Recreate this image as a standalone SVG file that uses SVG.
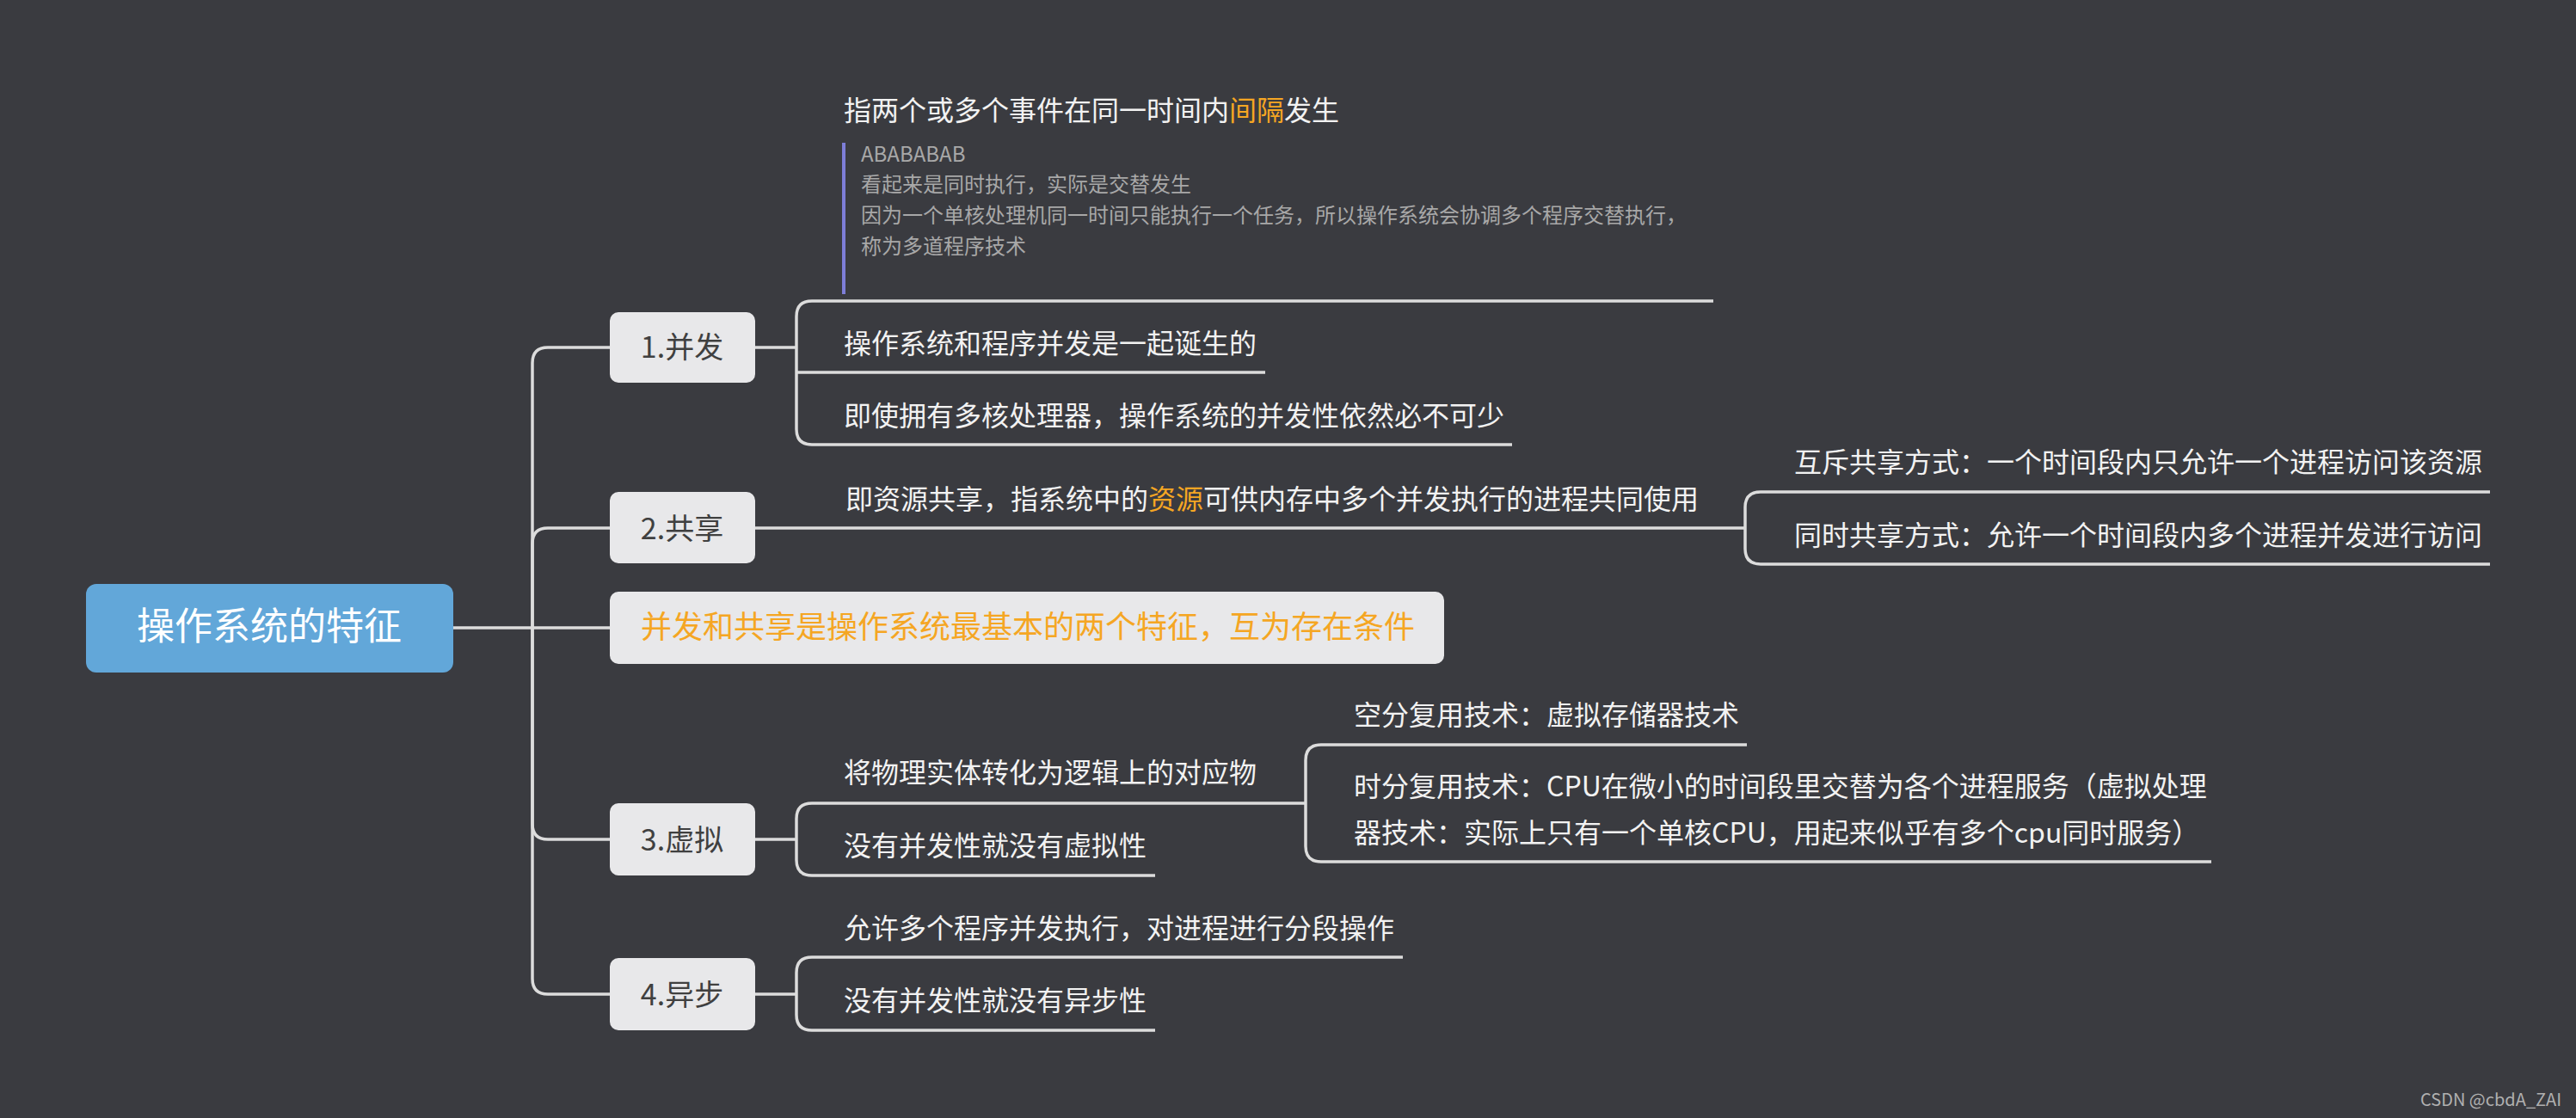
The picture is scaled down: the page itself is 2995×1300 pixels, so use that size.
<svg xmlns="http://www.w3.org/2000/svg" width="2995" height="1300" viewBox="0 0 2995 1300">
<style>
text{font-family:"Noto Sans CJK SC","Noto Sans",sans-serif}
.bg{fill:#3a3b40}
.ln{fill:none;stroke:#dcdcdc;stroke-width:3.5;stroke-linecap:butt}
.root{fill:#62a7d9}
.l1{fill:#e8e8ea}
.t1{font-size:34px;fill:#404040;text-anchor:middle}
.t2{font-size:32px;fill:#f2f2f2}
.note{font-size:24px;fill:#a8a8a8}
.hl{fill:#f5a623}
</style>
<rect class="bg" x="0" y="0" width="2995" height="1300"/>
<g id="connectors">
<path class="ln" d="M527 730 H709"/>
<path class="ln" d="M619 730 V422 Q619 404 637 404 H709"/>
<path class="ln" d="M619 730 V632 Q619 614 637 614 H709"/>
<path class="ln" d="M619 730 V958 Q619 976 637 976 H709"/>
<path class="ln" d="M619 730 V1138 Q619 1156 637 1156 H709"/>
<path class="ln" d="M878 404 H926"/>
<path class="ln" d="M1992 350 H944 Q926 350 926 368 V499 Q926 517 944 517 H1758"/>
<path class="ln" d="M926 433 H1471"/>
<path class="ln" d="M878 614 H2029"/>
<path class="ln" d="M2895 572 H2047 Q2029 572 2029 590 V638 Q2029 656 2047 656 H2895"/>
<path class="ln" d="M878 976 H926"/>
<path class="ln" d="M1518 934 H944 Q926 934 926 952 V1000 Q926 1018 944 1018 H1343"/>
<path class="ln" d="M2031 866 H1536 Q1518 866 1518 884 V984 Q1518 1002 1536 1002 H2571"/>
<path class="ln" d="M878 1156 H926"/>
<path class="ln" d="M1631 1113 H944 Q926 1113 926 1131 V1180 Q926 1198 944 1198 H1343"/>
</g>
<g id="root">
<rect class="root" x="100" y="679" width="427" height="103" rx="12"/>
<text x="313" y="744" style="font-size:44px;fill:#ffffff;text-anchor:middle">操作系统的特征</text>
</g>
<g id="n1">
<rect class="l1" x="709" y="363" width="169" height="82" rx="10"/>
<text class="t1" x="793" y="416">1.并发</text>
</g>
<g id="n1a">
<text class="t2" x="981" y="140">指两个或多个事件在同一时间内<tspan class="hl">间隔</tspan>发生</text>
<rect x="979" y="166" width="4" height="176" fill="#7e7ed8"/>
<text class="note" x="1001" y="188">ABABABAB</text>
<text class="note" x="1001" y="223">看起来是同时执行，实际是交替发生</text>
<text class="note" x="1001" y="259">因为一个单核处理机同一时间只能执行一个任务，所以操作系统会协调多个程序交替执行，</text>
<text class="note" x="1001" y="295">称为多道程序技术</text>
</g>
<g id="n1b"><text class="t2" x="981" y="411">操作系统和程序并发是一起诞生的</text></g>
<g id="n1c"><text class="t2" x="981" y="495">即使拥有多核处理器，操作系统的并发性依然必不可少</text></g>
<g id="n2">
<rect class="l1" x="709" y="572" width="169" height="83" rx="10"/>
<text class="t1" x="793" y="627">2.共享</text>
</g>
<g id="n2a"><text class="t2" x="983" y="592">即资源共享，指系统中的<tspan class="hl">资源</tspan>可供内存中多个并发执行的进程共同使用</text></g>
<g id="n2a1"><text class="t2" x="2086" y="549">互斥共享方式：一个时间段内只允许一个进程访问该资源</text></g>
<g id="n2a2"><text class="t2" x="2086" y="634">同时共享方式：允许一个时间段内多个进程并发进行访问</text></g>
<g id="nsum">
<rect class="l1" x="709" y="688" width="970" height="84" rx="10"/>
<text x="745" y="742" style="font-size:36px;fill:#f5a623">并发和共享是操作系统最基本的两个特征，互为存在条件</text>
</g>
<g id="n3">
<rect class="l1" x="709" y="934" width="169" height="84" rx="10"/>
<text class="t1" x="793" y="989">3.虚拟</text>
</g>
<g id="n3a"><text class="t2" x="981" y="910">将物理实体转化为逻辑上的对应物</text></g>
<g id="n3a1"><text class="t2" x="1574" y="843">空分复用技术：虚拟存储器技术</text></g>
<g id="n3a2">
<text class="t2" x="1574" y="926">时分复用技术：CPU在微小的时间段里交替为各个进程服务（虚拟处理</text>
<text class="t2" x="1574" y="980">器技术：实际上只有一个单核CPU，用起来似乎有多个cpu同时服务）</text>
</g>
<g id="n3b"><text class="t2" x="981" y="995">没有并发性就没有虚拟性</text></g>
<g id="n4">
<rect class="l1" x="709" y="1114" width="169" height="84" rx="10"/>
<text class="t1" x="793" y="1169">4.异步</text>
</g>
<g id="n4a"><text class="t2" x="981" y="1091">允许多个程序并发执行，对进程进行分段操作</text></g>
<g id="n4b"><text class="t2" x="981" y="1175">没有并发性就没有异步性</text></g>
<text x="2978" y="1286" style="font-size:20px;fill:#b0b0b0;text-anchor:end">CSDN @cbdA_ZAI</text>
</svg>
